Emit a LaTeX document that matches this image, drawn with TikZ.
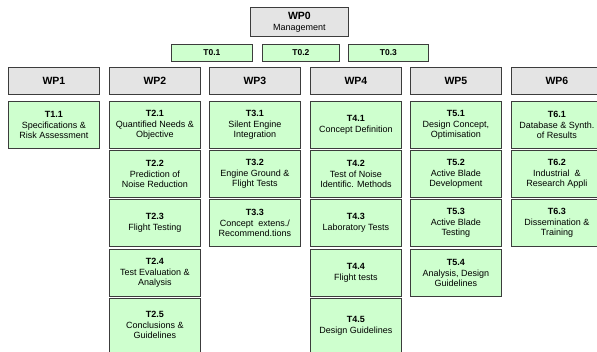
\documentclass[tikz,border=0pt]{standalone}
\usepackage{fontspec}
\setmainfont{Liberation Sans}
\definecolor{wpgray}{RGB}{228,228,228}
\definecolor{tgreen}{RGB}{206,255,206}
\definecolor{edge}{RGB}{60,60,60}
\tikzset{
  basebox/.style={draw=edge, line width=0.9pt, anchor=north west, align=center, inner sep=1pt},
  wpbox/.style={basebox, fill=wpgray, minimum width=91pt, minimum height=27pt, font=\fontsize{10.5}{12}\selectfont\bfseries},
  wpzero/.style={basebox, fill=wpgray, minimum width=98pt, minimum height=29pt, font=\fontsize{9}{11}\selectfont},
  tzero/.style={basebox, fill=tgreen, minimum height=17pt, font=\fontsize{8.5}{10}\selectfont\bfseries},
  taskbox/.style={basebox, fill=tgreen, minimum width=91pt, minimum height=47pt, font=\fontsize{9}{10.4}\selectfont}
}
\begin{document}
\begin{tikzpicture}[x=1pt,y=-1pt]
\clip (0,0) rectangle (597,351);
\fill[white] (0,0) rectangle (597,351);
% WP0 and T0.x
\node[wpzero] (wp0) at (250,7) {{\fontsize{10.5}{12}\selectfont\bfseries WP0}\\Management};
\node[tzero, minimum width=81pt] (t01) at (171,44) {T0.1};
\node[tzero, minimum width=77pt] (t02) at (262,44) {T0.2};
\node[tzero, minimum width=80pt] (t03) at (348,44) {T0.3};
% WP row
\node[wpbox] (wp1) at (8,67) {WP1};
\node[wpbox] (wp2) at (109,67) {WP2};
\node[wpbox] (wp3) at (209,67) {WP3};
\node[wpbox] (wp4) at (310,67) {WP4};
\node[wpbox] (wp5) at (410,67) {WP5};
\node[wpbox] (wp6) at (511,67) {WP6};
% WP1
\node[taskbox] (t11) at (8,101) {\textbf{T1.1}\\Specifications \&\\Risk Assessment};
% WP2
\node[taskbox] (t21) at (109,101) {\textbf{T2.1}\\Quantified Needs \&\\Objective};
\node[taskbox] (t22) at (109,150) {\textbf{T2.2}\\Prediction of\\Noise Reduction};
\node[taskbox] (t23) at (109,199) {\textbf{T2.3}\\Flight Testing};
\node[taskbox] (t24) at (109,249) {\textbf{T2.4}\\Test Evaluation \&\\Analysis};
\node[taskbox, minimum height=62pt] (t25) at (109,298) {\textbf{T2.5}\\Conclusions \&\\Guidelines\\[-1.5pt]\mbox{}};
% WP3
\node[taskbox] (t31) at (209,101) {\textbf{T3.1}\\Silent Engine\\Integration};
\node[taskbox] (t32) at (209,150) {\textbf{T3.2}\\Engine Ground \&\\Flight Tests};
\node[taskbox] (t33) at (209,199) {\textbf{T3.3}\\Concept~ extens./\\Recommend.tions};
% WP4
\node[taskbox] (t41) at (310,101) {\textbf{T4.1}\\Concept Definition};
\node[taskbox] (t42) at (310,150) {\textbf{T4.2}\\Test of Noise\\Identific. Methods};
\node[taskbox] (t43) at (310,199) {\textbf{T4.3}\\Laboratory Tests};
\node[taskbox] (t44) at (310,249) {\textbf{T4.4}\\Flight tests};
\node[taskbox, minimum height=62pt] (t45) at (310,298) {\textbf{T4.5}\\Design Guidelines\\[-1.5pt]\mbox{}};
% WP5
\node[taskbox] (t51) at (410,101) {\textbf{T5.1}\\Design Concept,\\Optimisation};
\node[taskbox] (t52) at (410,150) {\textbf{T5.2}\\Active Blade\\Development};
\node[taskbox] (t53) at (410,199) {\textbf{T5.3}\\Active Blade\\Testing};
\node[taskbox] (t54) at (410,249) {\textbf{T5.4}\\Analysis, Design\\Guidelines};
% WP6
\node[taskbox] (t61) at (511,101) {\textbf{T6.1}\\Database \& Synth.\\of Results};
\node[taskbox] (t62) at (511,150) {\textbf{T6.2}\\Industrial~ \&\\Research Appli};
\node[taskbox] (t63) at (511,199) {\textbf{T6.3}\\Dissemination \&\\Training};
\end{tikzpicture}
\end{document}
